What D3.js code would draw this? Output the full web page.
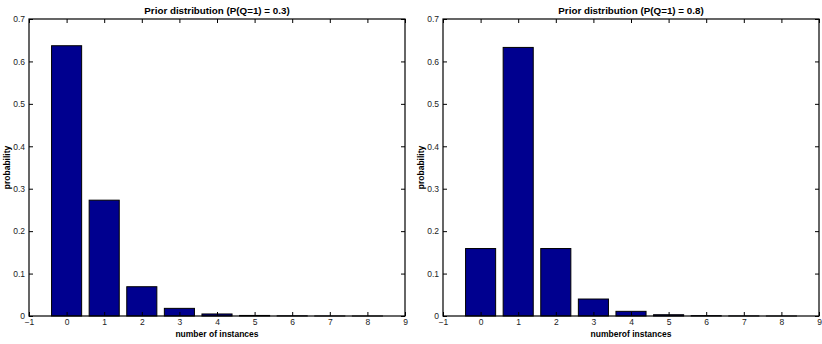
<!DOCTYPE html>
<html>
<head>
<meta charset="utf-8">
<script src="https://cdn.jsdelivr.net/npm/d3@7"></script>
<style>
  body { margin: 0; background: #fff; }
  svg { display: block; font-family: "Liberation Sans", Arial, Helvetica, sans-serif; }
</style>
</head>
<body>
<svg id="chart" width="822" height="344"></svg>
<script>
// number of instances
const categories = [0, 1, 2, 3, 4, 5, 6, 7, 8];
// P(Q=1) = 0.3
const probsLow = [0.637, 0.273, 0.069, 0.018, 0.0048, 0.0013, 0.0004, 0.0001, 0.00002];
// P(Q=1) = 0.8
const probsHigh = [0.159, 0.633, 0.159, 0.040, 0.011, 0.003, 0.0008, 0.0002, 0.00004];
const xTicks = [-1, 0, 1, 2, 3, 4, 5, 6, 7, 8, 9];
const yTicks = [0, 0.1, 0.2, 0.3, 0.4, 0.5, 0.6, 0.7];

const svg = d3.select('#chart');

let drawPanel = (left, values, title, xlabel) => {
  let top = 19, width = 376, height = 297;
  let x = d3.scaleLinear().domain([-1, 9]).range([0, width]);
  let y = d3.scaleLinear().domain([0, 0.7]).range([height, 0]);
  let barW = x(0.8) - x(0);

  let g = svg.append('g').attr('transform', `translate(${left},${top})`);

  g.selectAll('rect.bar')
    .data(categories)
    .enter().append('rect')
    .attr('class', 'bar')
    .attr('x', (d) => x(d) - barW / 2)
    .attr('y', (d, i) => y(values[i]))
    .attr('width', barW)
    .attr('height', (d, i) => height - y(values[i]))
    .attr('fill', '#00008f')
    .attr('stroke', '#000')
    .attr('stroke-width', 1);

  // inward ticks, MATLAB style, on all four sides
  let tl = 4;
  let fmt = (d) => d3.format('')(d);
  let bottom = d3.axisBottom(x).tickValues(xTicks).tickSize(-tl).tickPadding(3).tickFormat(fmt);
  let topAx = d3.axisTop(x).tickValues(xTicks).tickSize(-tl).tickFormat('');
  let leftAx = d3.axisLeft(y).tickValues(yTicks).tickSize(-tl).tickPadding(4).tickFormat(fmt);
  let rightAx = d3.axisRight(y).tickValues(yTicks).tickSize(-tl).tickFormat('');

  let styleAxis = (sel) => {
    sel.select('.domain').remove();
    sel.selectAll('line').attr('stroke', '#000');
    sel.selectAll('text').attr('font-size', 8.5).attr('fill', '#222');
  };
  g.append('g').attr('transform', `translate(0,${height})`).call(bottom).call(styleAxis);
  g.append('g').call(topAx).call(styleAxis);
  g.append('g').call(leftAx).call(styleAxis);
  g.append('g').attr('transform', `translate(${width},0)`).call(rightAx).call(styleAxis);

  g.append('rect')
    .attr('width', width).attr('height', height)
    .attr('fill', 'none').attr('stroke', '#000').attr('stroke-width', 1.2);

  g.append('text')
    .attr('x', width / 2).attr('y', -5)
    .attr('text-anchor', 'middle')
    .attr('font-size', 9.8).attr('font-weight', 'bold')
    .text(title);

  g.append('text')
    .attr('x', width / 2).attr('y', height + 21)
    .attr('text-anchor', 'middle')
    .attr('font-size', 8.5).attr('font-weight', 'bold')
    .text(xlabel);

  g.append('text')
    .attr('transform', `translate(-19,${height / 2}) rotate(-90)`)
    .attr('text-anchor', 'middle')
    .attr('font-size', 8.5).attr('font-weight', 'bold')
    .text('probability');
};

drawPanel(29, probsLow, 'Prior distribution (P(Q=1) = 0.3)', 'number of instances');
drawPanel(443, probsHigh, 'Prior distribution (P(Q=1) = 0.8)', 'numberof instances');
</script>
</body>
</html>
